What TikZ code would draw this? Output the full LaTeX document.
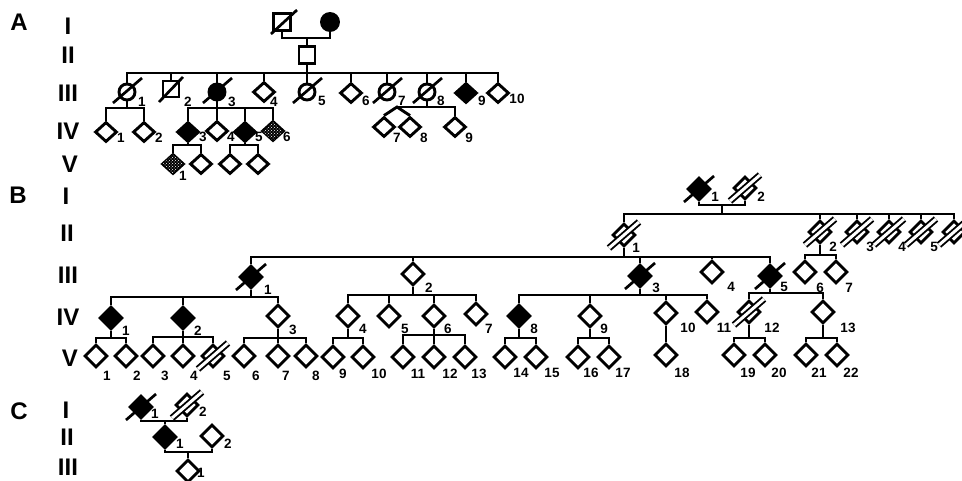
\documentclass[tikz,border=0pt]{standalone}
\usepackage{fontspec}
\setmainfont{Liberation Sans}
\usetikzlibrary{shapes.geometric,patterns}
\newcommand\nlab[4]{\node[lbl] (#1-n) at (#2,#3) {#4};}
\newcommand\slashmark[1]{\draw[slash] (#1.center) ++(-15,13) -- ++(30,-26);}
\newcommand\dslashmark[1]{\draw[dslash] (#1.center) ++(-15,13) -- ++(30,-26);}
\begin{document}
\begin{tikzpicture}[x=1pt,y=-1pt,
  ln/.style={line width=2.9pt},
  dia/.style={diamond, draw, line width=2.9pt, minimum width=23pt, minimum height=23pt, inner sep=0pt, fill=white},
  diaA/.style={dia, minimum width=22pt, minimum height=20pt},
  aff/.style={fill=black},
  shd/.style={fill=black, postaction={pattern=crosshatch dots, pattern color=white}},
  sq/.style={rectangle, draw, line width=2.9pt, minimum width=16pt, minimum height=16pt, inner sep=0pt, fill=white},
  ci/.style={circle, draw, line width=2.9pt, minimum size=16pt, inner sep=0pt, fill=white},
  slash/.style={line width=2.7pt},
  dslash/.style={line width=1.9pt, double=white, double distance=3pt},
  lbl/.style={font=\bfseries\fontsize{13.5}{13.5}\selectfont, inner sep=0pt},
  gen/.style={font=\bfseries\fontsize{24}{24}\selectfont, inner sep=0pt},
]
\fill[white] (0,0) rectangle (962,480);
\useasboundingbox (0,0) rectangle (962,480);

% ---------- panel letters and generation numerals ----------
\node[gen] (pA) at (19,22) {A};
\node[gen] (pB) at (18,195) {B};
\node[gen] (pC) at (19,411) {C};
\node[gen] (gA1) at (68,26) {I};
\node[gen] (gA2) at (68,55) {II};
\node[gen] (gA3) at (68,93) {III};
\node[gen] (gA4) at (68,131) {IV};
\node[gen] (gA5) at (70,164) {V};
\node[gen] (gB1) at (66,196) {I};
\node[gen] (gB2) at (67,233) {II};
\node[gen] (gB3) at (68,275) {III};
\node[gen] (gB4) at (68,317) {IV};
\node[gen] (gB5) at (70,358) {V};
\node[gen] (gC1) at (66,410) {I};
\node[gen] (gC2) at (67,437) {II};
\node[gen] (gC3) at (68,467) {III};

% ---------- panel A ----------
\node[sq, minimum width=17pt, minimum height=17pt] (aI1) at (282,22) {};
\node[ci, aff, minimum size=17pt] (aI2) at (330,22) {};
\node[sq, minimum width=16pt, minimum height=17pt] (aII1) at (307,55) {};

\node[ci] (aIII1) at (127,92) {};
\node[sq] (aIII2) at (171,89) {};
\node[ci,aff] (aIII3) at (217,92) {};
\node[diaA] (aIII4) at (264,92) {};
\node[ci] (aIII5) at (307,92) {};
\node[diaA] (aIII6) at (351,93) {};
\node[ci] (aIII7) at (387,92) {};
\node[ci] (aIII8) at (427,92) {};
\node[diaA,aff] (aIII9) at (466,93) {};
\node[diaA] (aIII10) at (498,93) {};

\node[diaA] (aIV1) at (106,132) {};
\node[diaA] (aIV2) at (144,132) {};
\node[diaA,aff] (aIV3) at (188,132) {};
\node[diaA] (aIV4) at (217,131) {};
\node[diaA,aff] (aIV5) at (245,132) {};
\node[diaA,shd] (aIV6) at (273,131) {};
\node[diaA] (aIV7) at (384,127) {};
\node[diaA] (aIV8) at (410,127) {};
\node[diaA] (aIV9) at (455,127) {};

\node[diaA,shd] (aV1) at (173,164) {};
\node[diaA] (aV2) at (201,164) {};
\node[diaA] (aV3) at (230,164) {};
\node[diaA] (aV4) at (258,164) {};

\coordinate (mA) at (307,38);
\draw[ln] (aI1.south) |- (mA) -| (aI2.south);
\draw[ln] (mA) -- (aII1.north);
\coordinate (sA3) at (307,73);
\draw[ln] (aII1.south) -- (sA3);
\draw[ln] (aIII1.north) |- (sA3) -| (aIII10.north);
\foreach \n in {aIII2,aIII3,aIII4,aIII5,aIII6,aIII7,aIII8,aIII9}
  {\draw[ln] (\n.north) -- (\n.north |- sA3);}

\coordinate (sA4a) at (127,108);
\draw[ln] (aIII1.south) -- (sA4a);
\draw[ln] (aIV1.north) |- (sA4a) -| (aIV2.north);
\coordinate (sA4b) at (217,108);
\draw[ln] (aIII3.south) -- (sA4b);
\draw[ln] (aIV3.north) |- (sA4b) -| (aIV6.north);
\foreach \n in {aIV4,aIV5} {\draw[ln] (\n.north) -- (\n.north |- sA4b);}
\coordinate (sA4c) at (427,107);
\coordinate (twA) at (397,107);
\draw[ln] (aIII8.south) -- (sA4c);
\draw[ln] (twA) -- (sA4c) -| (aIV9.north);
\draw[ln] (aIV7.north) -- (twA) -- (aIV8.north);

\coordinate (sA5a) at (188,145);
\draw[ln] (aIV3.south) -- (sA5a);
\draw[ln] (aV1.north) |- (sA5a) -| (aV2.north);
\coordinate (sA5b) at (245,145);
\draw[ln] (aIV5.south) -- (sA5b);
\draw[ln] (aV3.north) |- (sA5b) -| (aV4.north);

\draw[slash] (aI1.center) ++(-11,12) -- ++(26,-24);
\draw[slash] (aIII2.center) ++(-12,13) -- ++(24,-25);
\foreach \n in {aIII1,aIII3,aIII5,aIII7,aIII8}
  {\draw[slash] (\n.center) ++(-14,11) -- ++(29,-25);}

\nlab{aIII1}{142}{102}{1}
\nlab{aIII2}{188}{102}{2}
\nlab{aIII3}{232}{102}{3}
\nlab{aIII4}{274}{102}{4}
\nlab{aIII5}{322}{101}{5}
\nlab{aIII6}{366}{101}{6}
\nlab{aIII7}{402}{101}{7}
\nlab{aIII8}{441}{101}{8}
\nlab{aIII9}{482}{101}{9}
\nlab{aIII10}{517}{99}{10}
\nlab{aIV1}{121}{138}{1}
\nlab{aIV2}{159}{138}{2}
\nlab{aIV3}{203}{137}{3}
\nlab{aIV4}{231}{137}{4}
\nlab{aIV5}{259}{137}{5}
\nlab{aIV6}{287}{137}{6}
\nlab{aIV7}{397}{138}{7}
\nlab{aIV8}{424}{138}{8}
\nlab{aIV9}{469}{138}{9}
\nlab{aV1}{183}{176}{1}

% ---------- panel B ----------
\node[dia,aff] (bI1) at (699,189) {};
\node[dia] (bI2) at (745,188) {};

\node[dia] (bII1) at (624,235) {};
\node[dia] (bII2) at (820,232) {};
\node[dia] (bII3) at (857,232) {};
\node[dia] (bII4) at (889,232) {};
\node[dia] (bII5) at (921,232) {};
\node[dia] (bII6) at (954,232) {};

\node[dia,aff] (bIII1) at (251,277) {};
\node[dia] (bIII2) at (413,274) {};
\node[dia,aff] (bIII3) at (640,276) {};
\node[dia] (bIII4) at (712,272) {};
\node[dia,aff] (bIII5) at (770,276) {};
\node[dia] (bIII6) at (805,272) {};
\node[dia] (bIII7) at (836,272) {};

\node[dia,aff] (bIV1) at (111,318) {};
\node[dia,aff] (bIV2) at (183,318) {};
\node[dia] (bIV3) at (278,316) {};
\node[dia] (bIV4) at (348,316) {};
\node[dia] (bIV5) at (389,316) {};
\node[dia] (bIV6) at (434,316) {};
\node[dia] (bIV7) at (476,314) {};
\node[dia,aff] (bIV8) at (519,316) {};
\node[dia] (bIV9) at (590,316) {};
\node[dia] (bIV10) at (666,313) {};
\node[dia] (bIV11) at (707,312) {};
\node[dia] (bIV12) at (749,312) {};
\node[dia] (bIV13) at (823,312) {};

\node[dia] (bV1) at (96,356) {};
\node[dia] (bV2) at (126,356) {};
\node[dia] (bV3) at (153,356) {};
\node[dia] (bV4) at (183,356) {};
\node[dia] (bV5) at (213,356) {};
\node[dia] (bV6) at (244,356) {};
\node[dia] (bV7) at (278,356) {};
\node[dia] (bV8) at (306,356) {};
\node[dia] (bV9) at (333,357) {};
\node[dia] (bV10) at (363,357) {};
\node[dia] (bV11) at (403,357) {};
\node[dia] (bV12) at (434,357) {};
\node[dia] (bV13) at (465,357) {};
\node[dia] (bV14) at (505,357) {};
\node[dia] (bV15) at (536,357) {};
\node[dia] (bV16) at (578,357) {};
\node[dia] (bV17) at (609,357) {};
\node[dia] (bV18) at (666,355) {};
\node[dia] (bV19) at (734,355) {};
\node[dia] (bV20) at (765,355) {};
\node[dia] (bV21) at (806,355) {};
\node[dia] (bV22) at (837,355) {};

\coordinate (mB) at (722,205);
\draw[ln] (bI1.south) |- (mB) -| (bI2.south);
\coordinate (sB2) at (722,214);
\draw[ln] (mB) -- (sB2);
\draw[ln] (bII1.north) |- (sB2) -| (bII6.north);
\foreach \n in {bII2,bII3,bII4,bII5} {\draw[ln] (\n.north) -- (\n.north |- sB2);}

\coordinate (sB3) at (624,257);
\draw[ln] (bII1.south) -- (sB3);
\draw[ln] (bIII1.north) |- (sB3) -| (bIII5.north);
\foreach \n in {bIII2,bIII3,bIII4} {\draw[ln] (\n.north) -- (\n.north |- sB3);}
\coordinate (sB3b) at (820,255);
\draw[ln] (bII2.south) -- (sB3b);
\draw[ln] (bIII6.north) |- (sB3b) -| (bIII7.north);

\coordinate (sB4a) at (251,297);
\draw[ln] (bIII1.south) -- (sB4a);
\draw[ln] (bIV1.north) |- (sB4a) -| (bIV3.north);
\draw[ln] (bIV2.north) -- (bIV2.north |- sB4a);
\coordinate (sB4b) at (413,295);
\draw[ln] (bIII2.south) -- (sB4b);
\draw[ln] (bIV4.north) |- (sB4b) -| (bIV7.north);
\foreach \n in {bIV5,bIV6} {\draw[ln] (\n.north) -- (\n.north |- sB4b);}
\coordinate (sB4c) at (640,295);
\draw[ln] (bIII3.south) -- (sB4c);
\draw[ln] (bIV8.north) |- (sB4c) -| (bIV11.north);
\foreach \n in {bIV9,bIV10} {\draw[ln] (\n.north) -- (\n.north |- sB4c);}
\coordinate (sB4d) at (770,293);
\draw[ln] (bIII5.south) -- (sB4d);
\draw[ln] (bIV12.north) |- (sB4d) -| (bIV13.north);

\coordinate (sB5a) at (111,338);
\draw[ln] (bIV1.south) -- (sB5a);
\draw[ln] (bV1.north) |- (sB5a) -| (bV2.north);
\coordinate (sB5b) at (183,337);
\draw[ln] (bIV2.south) -- (sB5b);
\draw[ln] (bV3.north) |- (sB5b) -| (bV5.north);
\draw[ln] (bV4.north) -- (bV4.north |- sB5b);
\coordinate (sB5c) at (278,338);
\draw[ln] (bIV3.south) -- (sB5c);
\draw[ln] (bV6.north) |- (sB5c) -| (bV8.north);
\draw[ln] (bV7.north) -- (bV7.north |- sB5c);
\coordinate (sB5d) at (348,338);
\draw[ln] (bIV4.south) -- (sB5d);
\draw[ln] (bV9.north) |- (sB5d) -| (bV10.north);
\coordinate (sB5e) at (434,335);
\draw[ln] (bIV6.south) -- (sB5e);
\draw[ln] (bV11.north) |- (sB5e) -| (bV13.north);
\draw[ln] (bV12.north) -- (bV12.north |- sB5e);
\coordinate (sB5f) at (519,338);
\draw[ln] (bIV8.south) -- (sB5f);
\draw[ln] (bV14.north) |- (sB5f) -| (bV15.north);
\coordinate (sB5g) at (590,338);
\draw[ln] (bIV9.south) -- (sB5g);
\draw[ln] (bV16.north) |- (sB5g) -| (bV17.north);
\draw[ln] (bIV10.south) -- (bV18.north);
\coordinate (sB5h) at (749,338);
\draw[ln] (bIV12.south) -- (sB5h);
\draw[ln] (bV19.north) |- (sB5h) -| (bV20.north);
\coordinate (sB5i) at (823,338);
\draw[ln] (bIV13.south) -- (sB5i);
\draw[ln] (bV21.north) |- (sB5i) -| (bV22.north);

\foreach \n in {bI1,bIII1,bIII3,bIII5} {\slashmark{\n}}
\foreach \n in {bI2,bII1,bII2,bII3,bII4,bII5,bII6,bIV12,bV5} {\dslashmark{\n}}

\nlab{bI1}{715}{197}{1}
\nlab{bI2}{761}{197}{2}
\nlab{bII1}{636}{248}{1}
\nlab{bII2}{833}{247}{2}
\nlab{bII3}{870}{247}{3}
\nlab{bII4}{902}{247}{4}
\nlab{bII5}{934}{247}{5}
\nlab{bIII1}{268}{290}{1}
\nlab{bIII2}{429}{288}{2}
\nlab{bIII3}{656}{288}{3}
\nlab{bIII4}{731}{287}{4}
\nlab{bIII5}{784}{287}{5}
\nlab{bIII6}{820}{288}{6}
\nlab{bIII7}{849}{288}{7}
\nlab{bIV1}{126}{331}{1}
\nlab{bIV2}{198}{331}{2}
\nlab{bIV3}{293}{330}{3}
\nlab{bIV4}{363}{329}{4}
\nlab{bIV5}{405}{329}{5}
\nlab{bIV6}{448}{329}{6}
\nlab{bIV7}{489}{329}{7}
\nlab{bIV8}{534}{329}{8}
\nlab{bIV9}{604}{329}{9}
\nlab{bIV10}{688}{328}{10}
\nlab{bIV11}{724}{328}{11}
\nlab{bIV12}{772}{328}{12}
\nlab{bIV13}{848}{328}{13}
\nlab{bV1}{107}{376}{1}
\nlab{bV2}{137}{376}{2}
\nlab{bV3}{165}{376}{3}
\nlab{bV4}{194}{376}{4}
\nlab{bV5}{227}{376}{5}
\nlab{bV6}{256}{376}{6}
\nlab{bV7}{286}{376}{7}
\nlab{bV8}{316}{376}{8}
\nlab{bV9}{343}{374}{9}
\nlab{bV10}{379}{374}{10}
\nlab{bV11}{418}{374}{11}
\nlab{bV12}{450}{374}{12}
\nlab{bV13}{479}{374}{13}
\nlab{bV14}{521}{373}{14}
\nlab{bV15}{552}{373}{15}
\nlab{bV16}{591}{373}{16}
\nlab{bV17}{623}{373}{17}
\nlab{bV18}{682}{373}{18}
\nlab{bV19}{748}{373}{19}
\nlab{bV20}{779}{373}{20}
\nlab{bV21}{819}{373}{21}
\nlab{bV22}{851}{373}{22}

% ---------- panel C ----------
\node[dia,aff] (cI1) at (141,407) {};
\node[dia] (cI2) at (187,405) {};
\node[dia,aff] (cII1) at (165,437) {};
\node[dia] (cII2) at (212,436) {};
\node[dia] (cIII1) at (188,471) {};

\coordinate (mC1) at (165,421);
\draw[ln] (cI1.south) |- (mC1) -| (cI2.south);
\draw[ln] (mC1) -- (cII1.north);
\coordinate (mC2) at (188,452);
\draw[ln] (cII1.south) |- (mC2) -| (cII2.south);
\draw[ln] (mC2) -- (cIII1.north);

\slashmark{cI1}
\dslashmark{cI2}

\nlab{cI1}{155}{414}{1}
\nlab{cI2}{203}{412}{2}
\nlab{cII1}{180}{444}{1}
\nlab{cII2}{228}{444}{2}
\nlab{cIII1}{201}{473}{1}
\end{tikzpicture}
\end{document}
